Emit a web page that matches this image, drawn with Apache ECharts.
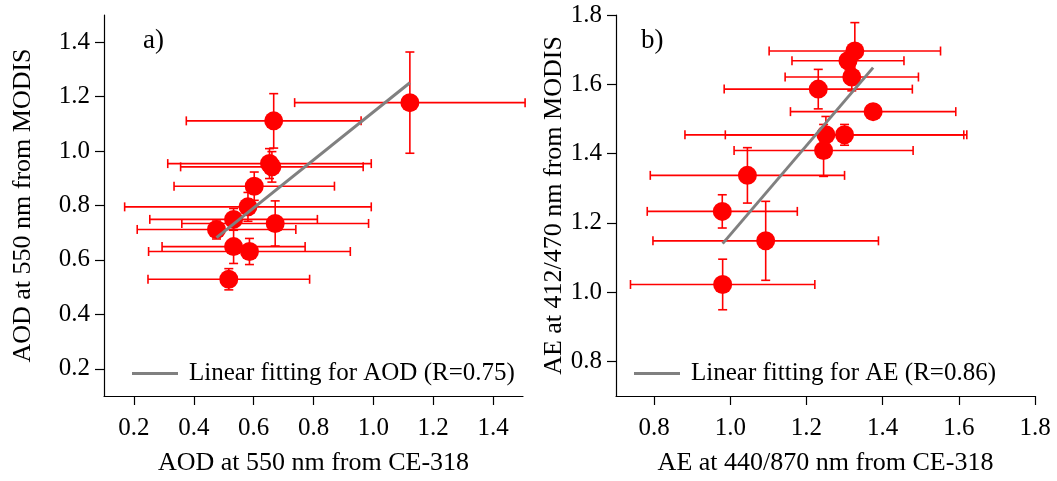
<!DOCTYPE html>
<html>
<head>
<meta charset="utf-8">
<script src="https://cdn.jsdelivr.net/npm/echarts@6/dist/echarts.min.js"></script>
<style>html,body{margin:0;padding:0;background:#fff;}#chart{width:1057px;height:481px;}</style>
</head>
<body>
<div id="chart"></div>
<script>
// Panel a) AOD
const aodX    = [1.122, 0.667, 0.653, 0.661, 0.602, 0.581, 0.533, 0.672, 0.476, 0.533, 0.586, 0.517];
const aodY    = [1.178, 1.111, 0.954, 0.942, 0.871, 0.795, 0.749, 0.734, 0.712, 0.649, 0.631, 0.529];
const aodXErr = [0.385, 0.292, 0.340, 0.305, 0.268, 0.412, 0.280, 0.312, 0.265, 0.239, 0.337, 0.270];
const aodYErr = [0.186, 0.100, 0.055, 0.056, 0.052, 0.053, 0.040, 0.083, 0.035, 0.062, 0.048, 0.039];
const aodFit  = [[0.476, 0.682], [1.122, 1.251]];
// Panel b) AE
const aeX    = [1.327, 1.309, 1.319, 1.231, 1.375, 1.251, 1.300, 1.245, 1.045, 0.979, 1.093, 0.980];
const aeY    = [1.696, 1.668, 1.621, 1.586, 1.521, 1.454, 1.454, 1.409, 1.337, 1.233, 1.148, 1.022];
const aeXErr = [0.225, 0.147, 0.175, 0.247, 0.217, 0.370, 0.313, 0.235, 0.255, 0.197, 0.296, 0.242];
const aeYErr = [0.082, 0.020, 0.040, 0.057, 0.020, 0.053, 0.030, 0.075, 0.080, 0.048, 0.114, 0.073];
const aeFit  = [[0.980, 1.140], [1.375, 1.648]];
// Tick labels
const aodTicks = [0.2, 0.4, 0.6, 0.8, 1.0, 1.2, 1.4];
const aeTicks  = [0.8, 1.0, 1.2, 1.4, 1.6, 1.8];
const aodLegend = 'Linear fitting for AOD (R=0.75)';
const aeLegend  = 'Linear fitting for AE (R=0.86)';

const RED = '#ff0000', GRAY = '#808080';
const FONT = '"Liberation Serif", "DejaVu Serif", serif';

function zip(xs, ys, xe, ye) { return xs.map((v, i) => [v, ys[i], xe[i], ye[i]]); }

function errRender(params, api) {
  const x = api.value(0), y = api.value(1), xe = api.value(2), ye = api.value(3);
  const l = api.coord([x - xe, y]), r = api.coord([x + xe, y]);
  const t = api.coord([x, y + ye]), b = api.coord([x, y - ye]);
  const c = 4.5;
  const st = { stroke: RED, lineWidth: 1.6 };
  const line = (x1, y1, x2, y2) => ({ type: 'line', shape: { x1, y1, x2, y2 }, style: st });
  return {
    type: 'group',
    children: [
      line(l[0], l[1], r[0], r[1]),
      line(l[0], l[1] - c, l[0], l[1] + c),
      line(r[0], r[1] - c, r[0], r[1] + c),
      line(t[0], t[1], b[0], b[1]),
      line(t[0] - c, t[1], t[0] + c, t[1]),
      line(b[0] - c, b[1], b[0] + c, b[1])
    ]
  };
}

function xAxis(idx, min, max, ticks, name) {
  return {
    gridIndex: idx, type: 'value', min, max,
    name, nameLocation: 'middle', nameGap: 54,
    nameTextStyle: { fontFamily: FONT, fontSize: 26, color: '#000' },
    splitLine: { show: false },
    axisLine: { show: true, lineStyle: { color: '#000', width: 1.2 } },
    axisTick: { show: true, inside: false, length: 9, customValues: ticks, lineStyle: { color: '#000', width: 1.2 } },
    axisLabel: { customValues: ticks, margin: 20, fontFamily: FONT, fontSize: 25, color: '#000', formatter: v => v.toFixed(1) }
  };
}
function yAxis(idx, min, max, ticks, name, gap) {
  return {
    gridIndex: idx, type: 'value', min, max,
    name, nameLocation: 'middle', nameGap: gap,
    nameTextStyle: { fontFamily: FONT, fontSize: 26, color: '#000' },
    splitLine: { show: false },
    axisLine: { show: true, lineStyle: { color: '#000', width: 1.2 } },
    axisTick: { show: true, inside: false, length: 9, customValues: ticks, lineStyle: { color: '#000', width: 1.2 } },
    axisLabel: { customValues: ticks, margin: 14, fontFamily: FONT, fontSize: 25, color: '#000', formatter: v => v.toFixed(1) }
  };
}

const chart = echarts.init(document.getElementById('chart'), null, { renderer: 'canvas' });
chart.setOption({
  animation: false,
  backgroundColor: '#fff',
  grid: [
    { left: 104, top: 15, right: 534, bottom: 84 },
    { left: 616, top: 15, right: 22, bottom: 84 }
  ],
  xAxis: [
    xAxis(0, 0.1, 1.5, aodTicks, 'AOD at 550 nm from CE-318'),
    xAxis(1, 0.7, 1.8, aeTicks, 'AE at 440/870 nm from CE-318')
  ],
  yAxis: [
    yAxis(0, 0.1, 1.5, aodTicks, 'AOD at 550 nm from MODIS', 68),
    yAxis(1, 0.7, 1.8, aeTicks, 'AE at 412/470 nm from MODIS', 47)
  ],
  legend: [
    { data: [aodLegend], left: 127, top: 356, itemWidth: 46, itemHeight: 3, icon: 'rect',
      textStyle: { fontFamily: FONT, fontSize: 25, color: '#000', padding: [0, 0, 0, 6] } },
    { data: [aeLegend], left: 629, top: 356, itemWidth: 46, itemHeight: 3, icon: 'rect',
      textStyle: { fontFamily: FONT, fontSize: 25, color: '#000', padding: [0, 0, 0, 6] } }
  ],
  graphic: [
    { type: 'text', left: 143, top: 27, style: { text: 'a)', font: '27px ' + FONT, fill: '#000' } },
    { type: 'text', left: 641, top: 27, style: { text: 'b)', font: '27px ' + FONT, fill: '#000' } }
  ],
  series: [
    { type: 'custom', xAxisIndex: 0, yAxisIndex: 0, data: zip(aodX, aodY, aodXErr, aodYErr), renderItem: errRender, z: 2, silent: true },
    { type: 'scatter', xAxisIndex: 0, yAxisIndex: 0, data: aodX.map((v, i) => [v, aodY[i]]), symbol: 'circle', symbolSize: 19, itemStyle: { color: RED, opacity: 1 }, z: 3 },
    { name: aodLegend, type: 'line', xAxisIndex: 0, yAxisIndex: 0, data: aodFit, symbol: 'none', lineStyle: { color: GRAY, width: 3 }, itemStyle: { color: GRAY }, z: 4 },
    { type: 'custom', xAxisIndex: 1, yAxisIndex: 1, data: zip(aeX, aeY, aeXErr, aeYErr), renderItem: errRender, z: 2, silent: true },
    { type: 'scatter', xAxisIndex: 1, yAxisIndex: 1, data: aeX.map((v, i) => [v, aeY[i]]), symbol: 'circle', symbolSize: 19, itemStyle: { color: RED, opacity: 1 }, z: 3 },
    { name: aeLegend, type: 'line', xAxisIndex: 1, yAxisIndex: 1, data: aeFit, symbol: 'none', lineStyle: { color: GRAY, width: 3 }, itemStyle: { color: GRAY }, z: 4 }
  ]
});
</script>
</body>
</html>
